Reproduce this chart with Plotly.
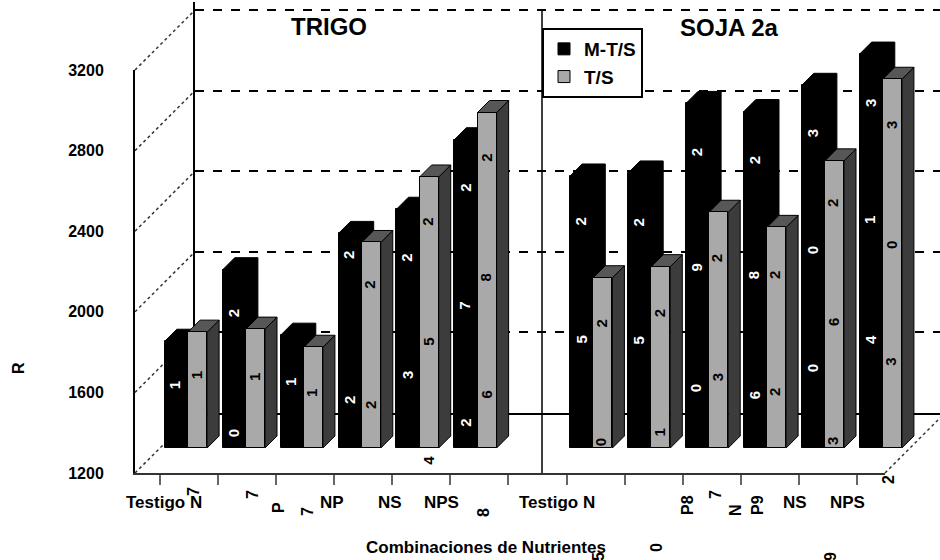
import plotly.graph_objects as go

# ---------------- data ----------------
categories = ["Testigo", "N", "P", "NP", "NS", "NPS"]
panels = ["TRIGO", "SOJA 2a"]
series_names = ["M-T/S", "T/S"]
trigo_mts = [1730, 2085, 1760, 2265, 2385, 2730]
trigo_ts = [1775, 1790, 1700, 2220, 2545, 2865]
soja_mts = [2550, 2565, 2910, 2870, 3000, 3155]
soja_ts = [2045, 2100, 2370, 2295, 2625, 3030]
y_ticks = [1200, 1600, 2000, 2400, 2800, 3200]
y_base = 1200
y_label = "R"
x_title = "Combinaciones de Nutrientes"

# --------------- geometry helpers ---------------
W, H = 940, 560
FONT = "Liberation Sans, Arial, sans-serif"


def fx(p):
    return p / W


def fy(p):
    return 1 - p / H


UNIT = 57.9      # px per category slot (bar plane)
C0 = 188         # px centre of first group
PXV = 0.2015     # px per value unit
BASE_PY = 448    # px of bar base
DX = 12 / UNIT   # depth shift (x, slot units)
DY = 12 / PXV    # depth shift (y, value units)

slots = list(range(len(categories))) + [i + len(categories) + 1 for i in range(len(categories))]
mts = trigo_mts + soja_mts
ts = trigo_ts + soja_ts

x_bar_range = [-C0 / UNIT, (W - C0) / UNIT]
ymin = y_base - (H - BASE_PY) / PXV
ymax = ymin + H / PXV

BW, GW = 0.40, 0.33
GREY = "#a9a9a9"
SIDE = "#3c3c3c"
TOP = "#575757"

fig = go.Figure()

# empty traces so that the back-wall and front-axis subplots get drawn
fig.add_trace(go.Scatter(x=[None], y=[None], xaxis="x", yaxis="y",
                         showlegend=False, hoverinfo="skip"))
fig.add_trace(go.Scatter(x=[None], y=[None], xaxis="x4", yaxis="y4",
                         showlegend=False, hoverinfo="skip"))

# ---- depth faces (tops and sides of the 3-D columns), built from the values ----
bx, by, sx, sy, tx, ty = [], [], [], [], [], []
for c, vb, vg in zip(slots, mts, ts):
    # black column silhouette (top + side)
    bx += [c - BW, c - BW + DX, c + DX, c + DX, c, c - BW, None]
    by += [vb, vb + DY, vb + DY, y_base + DY, y_base, vb, None]
    # grey column side face
    sx += [c + GW, c + GW + DX, c + GW + DX, c + GW, c + GW, None]
    sy += [y_base, y_base + DY, vg + DY, vg, y_base, None]
    # grey column top face
    tx += [c, c + GW, c + GW + DX, c + DX, c, None]
    ty += [vg, vg, vg + DY, vg + DY, vg, None]

for xs, ys, col in [(bx, by, "black"), (sx, sy, SIDE), (tx, ty, TOP)]:
    fig.add_trace(go.Scatter(x=xs, y=ys, mode="lines", fill="toself", fillcolor=col,
                             line=dict(color="black", width=1), showlegend=False,
                             hoverinfo="skip", xaxis="x2", yaxis="y2"))

# ---- front faces ----
fig.add_trace(go.Bar(x=slots, y=[v - y_base for v in mts], base=y_base,
                     offset=-BW, width=BW, name=series_names[0],
                     marker=dict(color="black", line=dict(color="black", width=1)),
                     xaxis="x3", yaxis="y3"))
fig.add_trace(go.Bar(x=slots, y=[v - y_base for v in ts], base=y_base,
                     offset=0, width=GW, name=series_names[1],
                     marker=dict(color=GREY, line=dict(color="black", width=1)),
                     xaxis="x3", yaxis="y3"))

# --------------- axes ---------------
hidden = dict(visible=False, fixedrange=True, automargin=False)
fig.update_layout(
    # back wall
    xaxis=dict(domain=[fx(195), 1], range=[0, 1], showline=True, linecolor="black",
               linewidth=1.5, showticklabels=False, showgrid=False, zeroline=False,
               ticks="", fixedrange=True, anchor="y", automargin=False),
    yaxis=dict(domain=[fy(413), fy(10 - 40 * PXV)], range=[y_base, 3240], showline=True,
               linecolor="black", linewidth=1.5, tickvals=y_ticks[1:], showticklabels=False,
               showgrid=True, gridcolor="black", gridwidth=1.5, griddash="dash",
               zeroline=False, ticks="", fixedrange=True, anchor="x", automargin=False),
    # column depth plane
    xaxis2=dict(domain=[0, 1], range=x_bar_range, anchor="y2", **hidden),
    yaxis2=dict(domain=[0, 1], range=[ymin, ymax], anchor="x2", **hidden),
    # column front plane
    xaxis3=dict(domain=[0, 1], range=x_bar_range, anchor="y3", **hidden),
    yaxis3=dict(domain=[0, 1], range=[ymin, ymax], anchor="x3", **hidden),
    # front axes
    xaxis4=dict(domain=[fx(135), fx(885)], range=[(135 - 160) / 58.08, (885 - 160) / 58.08],
                tickvals=list(range(13)), ticks="outside", ticklen=10, tickwidth=2,
                tickcolor="#666", showline=True, linecolor="#333", linewidth=2,
                showticklabels=False, showgrid=False, zeroline=False, anchor="y4",
                fixedrange=True, automargin=False),
    yaxis4=dict(domain=[fy(473), fy(70)], range=[y_base, 3200], tickvals=y_ticks,
                showline=True, linecolor="black", linewidth=2, ticks="",
                ticklabelstandoff=26, showgrid=False, zeroline=False, anchor="x4",
                tickfont=dict(family=FONT, size=16, color="black", weight="bold"),
                fixedrange=True, automargin=False),
)

# --------------- decorative lines ---------------
shapes = []
for v in y_ticks:
    off = (v - y_base) * PXV
    shapes.append(dict(type="line", xref="paper", yref="paper",
                       x0=fx(135), y0=fy(473 - off), x1=fx(195), y1=fy(413 - off),
                       line=dict(color="#333", width=1.5, dash="dot"), layer="below"))
shapes.append(dict(type="line", xref="paper", yref="paper", x0=fx(885), y0=fy(473),
                   x1=fx(945), y1=fy(413), line=dict(color="#333", width=1.5, dash="dot")))
shapes.append(dict(type="line", xref="paper", yref="paper", x0=fx(542), y0=fy(10),
                   x1=fx(542), y1=fy(473), line=dict(color="black", width=1.5)))

# --------------- text ---------------
ann = []


def txt(text, x, y, size=17, angle=0, color="black", xref="paper", yref="paper"):
    ann.append(dict(text=text, x=x, y=y, xref=xref, yref=yref, showarrow=False,
                    textangle=angle, xanchor="center", yanchor="middle",
                    font=dict(family=FONT, size=size, color=color, weight="bold")))


txt(panels[0], fx(329), fy(26), size=24)
txt(panels[1], fx(729), fy(27), size=24)
txt(x_title, fx(486), fy(547), size=17)
txt(y_label, fx(18), fy(368), size=16, angle=-90)

# category labels (horizontal) and stray rotated fragments under the floor
for t, x, y in [("Testigo N", 164, 502), ("NP", 332, 502), ("NS", 390, 502),
                ("NPS", 441, 502), ("Testigo N", 557, 502), ("NS", 795, 502),
                ("NPS", 847, 502)]:
    txt(t, fx(x), fy(y), size=17)
for t, x, y in [("7", 193, 492), ("7", 252, 495), ("P", 278, 508), ("7", 307, 512),
                ("8", 483, 513), ("P8", 687, 505), ("7", 715, 495), ("N", 735, 510),
                ("P9", 757, 505), ("2", 888, 480), ("0", 656, 548), ("9", 830, 557),
                ("5", 598, 557)]:
    txt(t, fx(x), fy(y), size=16, angle=-90)

# truncated data labels written on the columns: (slot, series, text, level)
bar_label_specs = [
    (0, 0, "1", 1513), (0, 1, "1", 1562),
    (1, 0, "2", 1870), (1, 0, "0", 1274), (1, 1, "1", 1552),
    (2, 0, "1", 1528), (2, 1, "1", 1473),
    (3, 0, "2", 2158), (3, 0, "2", 1438), (3, 1, "2", 2009), (3, 1, "2", 1413),
    (4, 0, "2", 2143), (4, 0, "3", 1562), (4, 1, "2", 2322), (4, 1, "5", 1726), (4, 1, "4", 1140),
    (5, 0, "2", 2490), (5, 0, "7", 1905), (5, 0, "2", 1324),
    (5, 1, "2", 2639), (5, 1, "8", 2044), (5, 1, "6", 1463),
    (7, 0, "2", 2322), (7, 0, "5", 1736), (7, 1, "2", 1820), (7, 1, "0", 1230),
    (8, 0, "2", 2322), (8, 0, "5", 1736), (8, 1, "2", 1870), (8, 1, "1", 1279),
    (9, 0, "2", 2669), (9, 0, "9", 2098), (9, 0, "0", 1498), (9, 1, "2", 2143), (9, 1, "3", 1552),
    (10, 0, "2", 2629), (10, 0, "8", 2059), (10, 0, "6", 1463), (10, 1, "2", 2059), (10, 1, "2", 1478),
    (11, 0, "3", 2763), (11, 0, "0", 2182), (11, 0, "0", 1597),
    (11, 1, "2", 2416), (11, 1, "6", 1825), (11, 1, "3", 1235),
    (12, 0, "3", 2912), (12, 0, "1", 2332), (12, 0, "4", 1736),
    (12, 1, "3", 2803), (12, 1, "0", 2207), (12, 1, "3", 1627),
]
for slot, s, t, lv in bar_label_specs:
    xo = slot - 0.22 if s == 0 else slot + 0.14
    col = "white" if s == 0 else "black"
    txt(t, xo, lv, size=15, angle=-90, color=col, xref="x3", yref="y3")

fig.update_layout(
    width=W, height=H, margin=dict(l=0, r=0, t=0, b=0, pad=0, autoexpand=False),
    paper_bgcolor="white", plot_bgcolor="rgba(0,0,0,0)",
    barmode="overlay", bargap=0,
    shapes=shapes, annotations=ann,
    legend=dict(x=fx(542), y=fy(28), xanchor="left", yanchor="top",
                bgcolor="white", bordercolor="black", borderwidth=2,
                font=dict(family=FONT, size=19, color="black", weight="bold"),
                itemwidth=30, tracegroupgap=0),
    font=dict(family=FONT, color="black"),
    showlegend=True,
)

fig.write_html("out.html")
